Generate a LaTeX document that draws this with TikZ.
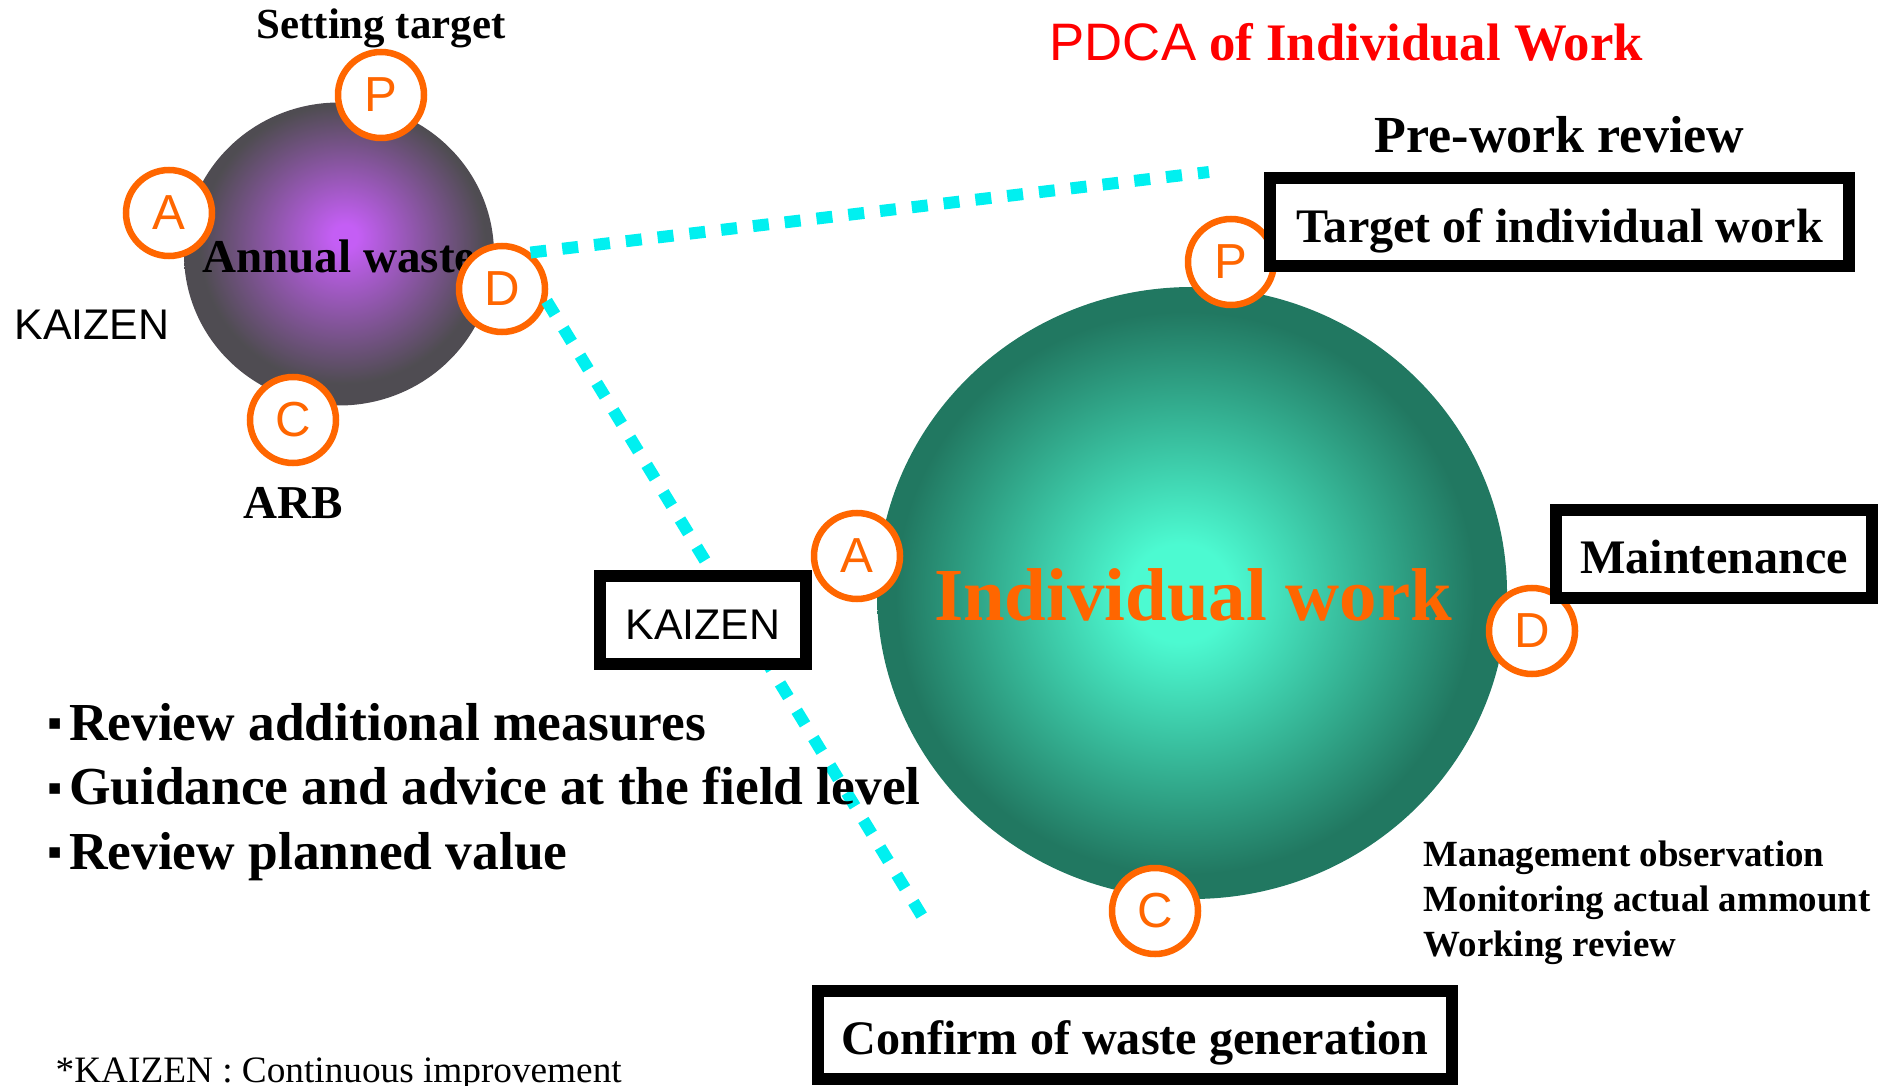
\documentclass[tikz,border=0pt]{standalone}
\usepackage{fontspec}
\setmainfont{Liberation Serif}
\setsansfont{Liberation Sans}
\newfontfamily\bulletfont{DejaVu Sans}
\usetikzlibrary{positioning,shapes.geometric}

\definecolor{pdcaorange}{HTML}{FF6600}
\definecolor{dotcyan}{HTML}{00F0F0}
\definecolor{titlered}{HTML}{FF0000}

\pgfdeclareradialshading{annualshade}{\pgfpoint{1bp}{3bp}}{rgb(0bp)=(0.77,0.37,0.96); rgb(2bp)=(0.77,0.37,0.96); rgb(23bp)=(0.31,0.30,0.32); rgb(50bp)=(0.31,0.30,0.32)}
\pgfdeclareradialshading{workshade}{\pgfpoint{-1bp}{0bp}}{rgb(0bp)=(0.30,0.98,0.82); rgb(4bp)=(0.30,0.98,0.82); rgb(23bp)=(0.13,0.47,0.38); rgb(50bp)=(0.13,0.47,0.38)}

\newcommand{\sqbullet}{\raisebox{3pt}{\bulletfont\fontsize{6}{6}\selectfont ▪}\hspace{2pt}}

\begin{document}
\begin{tikzpicture}[
    ball/.style={ellipse, shade, inner sep=0pt},
    pdca/.style={circle, draw=pdcaorange, line width=0.065cm, fill=white, minimum size=0.86cm, inner sep=0pt, text=pdcaorange, font=\sffamily\fontsize{14}{16}\selectfont},
    boxed/.style={rectangle, draw=black, line width=0.12cm, fill=white, inner sep=0pt, minimum height=0.88cm, text height=11.8pt, text depth=0.7pt, font=\bfseries\fontsize{13.7}{16}\selectfont},
    caption/.style={inner sep=0pt, font=\bfseries\fontsize{13.4}{16}\selectfont},
    dotline/.style={dotcyan, line width=0.12cm, dash pattern=on 0.16cm off 0.16cm}
]
    \useasboundingbox (0,0) rectangle (18.97,-10.86);

    % annual waste cycle
    \node[ball, shading=annualshade, minimum width=3.10cm, minimum height=3.03cm] (annual) at (3.39,-2.54) {};
    \node[caption] (annualtxt) at (3.39,-2.56) {Annual waste};
    \node[pdca] (P1) at (3.81,-0.95) {P};
    \node[pdca] (A1) at (1.69,-2.13) {A};
    \node[pdca] (D1) at (5.02,-2.89) {D};
    \node[pdca] (C1) at (2.93,-4.20) {C};
    \node[caption, font=\bfseries\fontsize{12.2}{14}\selectfont, above=0pt of P1] (settarget) {Setting target};
    \node[caption, below=0.2cm of C1] (arb) {ARB};
    \node[inner sep=0pt, font=\sffamily\fontsize{12.2}{14}\selectfont] (kaizenL) at (0.92,-3.25) {KAIZEN};

    % individual work cycle
    \node[ball, shading=workshade, minimum width=6.30cm, minimum height=6.12cm] (work) at (11.92,-5.93) {};
    \node[inner sep=0pt, text=pdcaorange, font=\bfseries\fontsize{21.3}{24}\selectfont] (worktxt) at (11.93,-5.95) {Individual work};
    \node[pdca] (P2) at (12.31,-2.62) {P};
    \node[pdca] (A2) at (8.57,-5.56) {A};
    \node[pdca] (D2) at (15.32,-6.31) {D};
    \node[pdca] (C2) at (11.55,-9.11) {C};

    % zoom lines
    \coordinate (farA) at (12.09,-1.72);
    \coordinate (farB) at (9.25,-9.21);
    \draw[dotline] (D1.52) -- (farA);
    \draw[dotline] (D1.-15) -- (farB);

    % boxes
    \node[boxed, minimum width=5.79cm] (target) at (15.595,-2.225) {Target of individual work};
    \node[boxed, minimum width=3.16cm] (maint) at (17.14,-5.54) {Maintenance};
    \node[boxed, minimum width=6.34cm] (confirm) at (11.35,-10.345) {Confirm of waste generation};
    \node[boxed, minimum width=2.06cm, font=\sffamily\fontsize{12.2}{14}\selectfont] (kaizenbox) at (7.03,-6.20) {KAIZEN};

    % titles and notes
    \node[inner sep=0pt, anchor=west, text=titlered, font=\bfseries\fontsize{15}{18}\selectfont] (title) at (10.49,-0.42) {{\mdseries\sffamily PDCA} of Individual Work};
    \node[caption, font=\bfseries\fontsize{14.8}{18}\selectfont, above=0.19cm of target] (prework) {Pre-work review};
    \node[inner sep=0pt, anchor=west, align=left, font=\bfseries\fontsize{10.5}{12.8}\selectfont] (checks) at (14.23,-9.03) {Management observation\\Monitoring actual ammount\\Working review};
    \node[inner sep=0pt, anchor=west, align=left, font=\bfseries\fontsize{15.2}{18.4}\selectfont] (actions) at (0.47,-7.92) {\sqbullet Review additional measures\\ \sqbullet Guidance and advice at the field level\\ \sqbullet Review planned value};
    \node[inner sep=0pt, anchor=base west, font=\fontsize{10.6}{12}\selectfont] (footnote) at (0.55,-10.82) {*KAIZEN : Continuous improvement};
\end{tikzpicture}
\end{document}
